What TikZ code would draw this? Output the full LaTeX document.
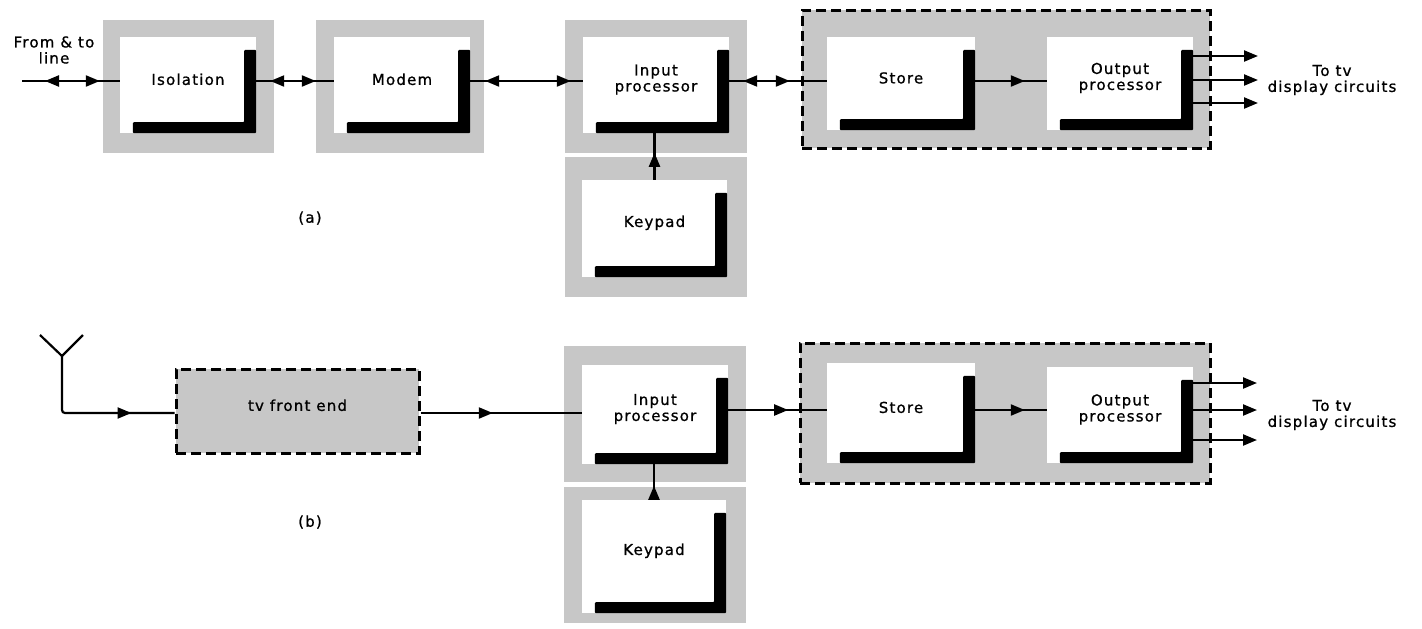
\documentclass[tikz,border=0pt]{standalone}
\usepackage{fontspec}
\setmainfont{DejaVu Sans}[LetterSpace=8, FakeBold=0.9]
\usetikzlibrary{arrows.meta,fit,decorations.markings}
\definecolor{stipple}{gray}{0.78}
\tikzset{
  greyfill/.style={fill=stipple},
  txt/.style={font=\fontsize{15}{16}\selectfont},
  whitebox/.style={fill=white, inner sep=0pt, align=center, txt},
  conn/.style={line width=2.2pt},
  >={Triangle[length=14pt,width=11pt]},
  twoway/.style 2 args={postaction={decorate,decoration={markings,
      mark=at position #1 with {\arrowreversed{>}},
      mark=at position #2 with {\arrow{>}}}}},
  oneway/.style={postaction={decorate,decoration={markings,
      mark=at position #1 with {\arrow{>}}}}},
  dashbox/.style={draw, fill=stipple, line width=3pt, dash pattern=on 10pt off 5pt, inner sep=0pt},
  lbl/.style={align=center, inner sep=0pt, txt},
}
\newcommand\Lbar[1]{\fill[rounded corners=1pt] ([xshift=-12pt,yshift=-13pt]#1.north east) -- ([yshift=-13pt]#1.north east) -- (#1.south east) -- ([xshift=13pt]#1.south west) -- ([xshift=13pt,yshift=11pt]#1.south west) -- ([xshift=-12pt,yshift=11pt]#1.south east) -- cycle;}
\newcommand\wbox[4]{%
  \coordinate (#1-a) at (#2); \coordinate (#1-b) at (#3);
  \node[whitebox, fit=(#1-a)(#1-b)] (#1) {#4};
  \Lbar{#1}}
\newcommand\blk[6]{%
  \fill[greyfill] (#2) rectangle (#3);
  \wbox{#1}{#4}{#5}{#6}}
\begin{document}
\begin{tikzpicture}[x=1pt,y=-1pt]
\useasboundingbox[fill=white] (0,0) rectangle (1422,629);

% ---------------- (a) ----------------
\coordinate (rowA) at (0,81);
\blk{iso}{103,20}{274,153}{120,37}{256,133}{Isolation}
\blk{modem}{316,20}{484,153}{334,37}{470,133}{Modem}
\blk{inA}{565,20}{747,153}{583,37}{729,133}{Input\\processor}
\blk{kpA}{565,157}{747,297}{582,180}{727,277}{Keypad}
\coordinate (gA1) at (802,10); \coordinate (gA2) at (1210,148);
\node[dashbox, fit=(gA1)(gA2)] (grpA) {};
\wbox{storeA}{827,37}{975,130}{Store}
\wbox{outA}{1047,37}{1193,130}{Output\\processor}

\node[lbl] (fromlbl) at (54,50) {From \& to\\line};
\coordinate (fromA) at (22,81);
\draw[conn, twoway={23pt}{-20pt}] (fromA) -- (iso.west |- rowA);
\draw[conn, twoway={14pt}{-18pt}] (iso.east |- rowA) -- (modem.west |- rowA);
\draw[conn, twoway={15pt}{-12pt}] (modem.east |- rowA) -- (inA.west |- rowA);
\draw[conn, twoway={14pt}{-37pt}] (inA.east |- rowA) -- (storeA.west |- rowA);
\draw[conn, oneway=-22pt] (storeA.east |- rowA) -- (outA.west |- rowA);
\draw[conn, oneway=27pt] (kpA.north) -- (kpA.north |- inA.south);
\coordinate (oa1) at (1258,56);
\coordinate (oa2) at (1258,80);
\coordinate (oa3) at (1258,103);
\draw[conn,->] (outA.east |- oa1) -- (oa1);
\draw[conn,->] (outA.east |- oa2) -- (oa2);
\draw[conn,->] (outA.east |- oa3) -- (oa3);
\node[lbl] (tvA) at (1332,80) {To tv\\display circuits};
\node[lbl] (capA) at (310,218) {(a)};

% ---------------- (b) ----------------
\coordinate (rowB) at (0,410);
\coordinate (rowT) at (0,413);
\coordinate (t1) at (176,369); \coordinate (t2) at (419,453);
\node[dashbox, fit=(t1)(t2), txt] (tvfe) {tv front end};
\blk{inB}{564,346}{746,482}{582,365}{728,464}{Input\\processor}
\blk{kpB}{564,487}{746,623}{582,500}{726,613}{Keypad}
\coordinate (gB1) at (800,343); \coordinate (gB2) at (1210,483);
\node[dashbox, fit=(gB1)(gB2)] (grpB) {};
\wbox{storeB}{827,363}{975,463}{Store}
\wbox{outB}{1047,367}{1193,463}{Output\\processor}

\coordinate (ant) at (62,356);
\coordinate (antL) at (40,335);
\coordinate (antR) at (83,335);
\coordinate (antC) at (62,413);
\draw[conn, line join=round] (antL) -- (ant) -- (antR);
\draw[conn, rounded corners=3pt, oneway=-43pt] (ant) -- (antC) -- (tvfe.west |- antC);
\draw[conn, oneway=-89pt] (tvfe.east |- rowT) -- (inB.west |- rowT);
\draw[conn, oneway=60pt] (inB.east |- rowB) -- (storeB.west |- rowB);
\draw[conn, oneway=-22pt] (storeB.east |- rowB) -- (outB.west |- rowB);
\draw[conn, oneway=14pt] (kpB.north) -- (kpB.north |- inB.south);
\coordinate (ob1) at (1257,383);
\coordinate (ob2) at (1257,410);
\coordinate (ob3) at (1257,440);
\draw[conn,->] (outB.east |- ob1) -- (ob1);
\draw[conn,->] (outB.east |- ob2) -- (ob2);
\draw[conn,->] (outB.east |- ob3) -- (ob3);
\node[lbl] (tvB) at (1332,415) {To tv\\display circuits};
\node[lbl] (capB) at (310,522) {(b)};
\end{tikzpicture}
\end{document}
